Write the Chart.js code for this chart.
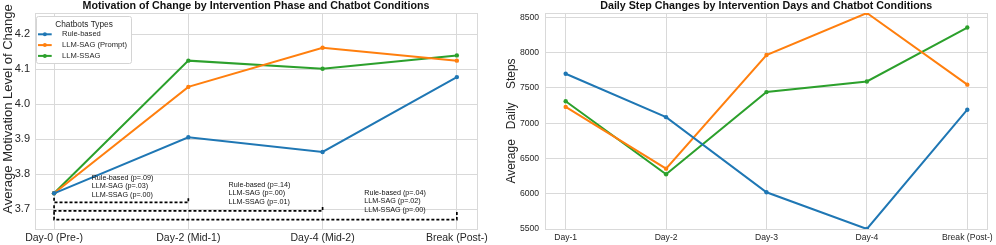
<!DOCTYPE html>
<html>
<head>
<meta charset="utf-8">
<script src="https://cdn.jsdelivr.net/npm/chart.js@4.4.1/dist/chart.umd.min.js"></script>
<style>
  body { margin: 0; background: #fff; width: 996px; height: 245px; overflow: hidden; position: relative; }
  #wrapMot { position: absolute; left: 0; top: 0; width: 500px; height: 245px; }
  #wrapSteps { position: absolute; left: 500px; top: 0; width: 496px; height: 245px; }
</style>
</head>
<body>
<div id="wrapMot"><canvas id="motChart" width="500" height="245"></canvas></div>
<div id="wrapSteps"><canvas id="stepChart" width="496" height="245"></canvas></div>
<script>
// series shared by both charts
const seriesNames = ['Rule-based', 'LLM-SAG (Prompt)', 'LLM-SSAG'];
const seriesColors = ['#1f77b4', '#ff7f0e', '#2ca02c'];

// left: motivation of change
const phaseLabels = ['Day-0 (Pre-)', 'Day-2 (Mid-1)', 'Day-4 (Mid-2)', 'Break (Post-)'];
const motRule = [3.745, 3.905, 3.863, 4.077];
const motSag = [3.745, 4.049, 4.161, 4.124];
const motSsag = [3.745, 4.124, 4.101, 4.139];
const motTicks = [3.7, 3.8, 3.9, 4.0, 4.1, 4.2];

// p-value brackets (Day-0 vs later phase)
const bracketEnd = [1, 2, 3];
const bracketY = [3.719, 3.695, 3.670];
const bracketRise = [0.013, 0.016, 0.022];
const pNotes = [
  ['Rule-based (p=.09)', 'LLM-SAG (p=.03)', 'LLM-SSAG (p=.00)'],
  ['Rule-based (p=.14)', 'LLM-SAG (p=.00)', 'LLM-SSAG (p=.01)'],
  ['Rule-based (p=.04)', 'LLM-SAG (p=.02)', 'LLM-SSAG (p=.00)']
];
const pNoteX = [0.28, 1.30, 2.31];
const pNoteY = [3.789, 3.769, 3.747];

// right: daily steps
const dayLabels = ['Day-1', 'Day-2', 'Day-3', 'Day-4', 'Break (Post-)'];
const stepRule = [7700, 7085, 6020, 5500, 7190];
const stepSag = [7230, 6355, 7965, 8560, 7545];
const stepSsag = [7310, 6275, 7440, 7590, 8355];
const stepTicks = [5500, 6000, 6500, 7000, 7500, 8000, 8500];

const FONT = '"Liberation Sans", Arial, sans-serif';
const GRID = '#d9d9d9';
const TXT = '#262626';

function toXY(arr) {
  return arr.map((v, i) => ({ x: i, y: v }));
}

function lineSet(name, vals, color) {
  return {
    label: name,
    data: toXY(vals),
    borderColor: color,
    backgroundColor: color,
    borderWidth: 2,
    pointRadius: 2.2,
    pointBorderWidth: 0,
    tension: 0
  };
}

// light grey box around the plot area
const frame = {
  id: 'frame',
  beforeDatasetsDraw(chart) {
    const { ctx, chartArea: a } = chart;
    ctx.save();
    ctx.strokeStyle = GRID;
    ctx.lineWidth = 1;
    ctx.strokeRect(Math.round(a.left) + 0.5, Math.round(a.top) + 0.5, Math.round(a.width), Math.round(a.height));
    ctx.restore();
  }
};

// p-value notes beside the brackets
const pNoteText = {
  id: 'pNoteText',
  afterDatasetsDraw(chart) {
    const { ctx, scales } = chart;
    ctx.save();
    ctx.font = '7.2px ' + FONT;
    ctx.fillStyle = '#111';
    ctx.textAlign = 'left';
    ctx.textBaseline = 'middle';
    pNotes.forEach((lines, k) => {
      const px = scales.x.getPixelForValue(pNoteX[k]);
      const py = scales.y.getPixelForValue(pNoteY[k]);
      lines.forEach((t, j) => ctx.fillText(t, px, py + j * 8.6));
    });
    ctx.restore();
  }
};

// boxed legend in the upper left of the motivation plot
const legendBox = {
  id: 'legendBox',
  afterDraw(chart) {
    const { ctx } = chart;
    const x = 36.5, y = 16.5, w = 95, h = 47;
    ctx.save();
    ctx.fillStyle = '#fff';
    ctx.strokeStyle = '#d4d4d4';
    ctx.lineWidth = 1;
    ctx.beginPath();
    ctx.roundRect(x, y, w, h, 2);
    ctx.fill();
    ctx.stroke();
    ctx.fillStyle = TXT;
    ctx.textBaseline = 'middle';
    ctx.textAlign = 'center';
    ctx.font = '8.3px ' + FONT;
    ctx.fillText('Chatbots Types', x + 47.5, y + 7.8);
    ctx.textAlign = 'left';
    ctx.font = '7.6px ' + FONT;
    chart.data.datasets.slice(0, 3).forEach((ds, i) => {
      const ry = y + 17.8 + i * 10.8;
      ctx.strokeStyle = ds.borderColor;
      ctx.lineWidth = 2;
      ctx.beginPath();
      ctx.moveTo(x + 1.5, ry);
      ctx.lineTo(x + 15.2, ry);
      ctx.stroke();
      ctx.fillStyle = ds.borderColor;
      ctx.beginPath();
      ctx.arc(x + 8.4, ry, 2, 0, Math.PI * 2);
      ctx.fill();
      ctx.fillStyle = TXT;
      ctx.fillText(ds.label, x + 25.5, ry);
    });
    ctx.restore();
  }
};

// y title of the motivation plot, sits a bit above centre
const motYTitle = {
  id: 'motYTitle',
  afterDraw(chart) {
    const { ctx } = chart;
    ctx.save();
    ctx.translate(8, 109);
    ctx.rotate(-Math.PI / 2);
    ctx.font = '13px ' + FONT;
    ctx.fillStyle = TXT;
    ctx.textAlign = 'center';
    ctx.textBaseline = 'middle';
    ctx.fillText('Average Motivation Level of Change', 0, 0);
    ctx.restore();
  }
};

// Motivation of change
const motSets = [
  lineSet(seriesNames[0], motRule, seriesColors[0]),
  lineSet(seriesNames[1], motSag, seriesColors[1]),
  lineSet(seriesNames[2], motSsag, seriesColors[2])
];
bracketEnd.forEach((end, k) => {
  const y = bracketY[k], r = bracketRise[k];
  motSets.push({
    label: 'bracket' + k,
    data: [{ x: 0, y: y + r }, { x: 0, y: y }, { x: end, y: y }, { x: end, y: y + r }],
    borderColor: '#000',
    borderWidth: 1.7,
    borderDash: [3, 2],
    pointRadius: 0,
    tension: 0
  });
});

const ctx1 = document.getElementById('motChart').getContext('2d');
const motChart = new Chart(ctx1, {
  type: 'line',
  data: { datasets: motSets },
  options: {
    responsive: false,
    animation: false,
    events: [],
    layout: { padding: { left: 0, right: 23, top: 0, bottom: 0 } },
    scales: {
      x: {
        type: 'linear',
        min: -0.142,
        max: 3.15,
        afterBuildTicks: s => { s.ticks = phaseLabels.map((_, i) => ({ value: i })); },
        afterFit: s => { s.height = 16; },
        grid: { color: GRID, drawTicks: false },
        border: { display: false },
        ticks: {
          padding: 3,
          maxRotation: 0,
          autoSkip: false,
          color: TXT,
          font: { family: FONT, size: 10.5 },
          callback: v => phaseLabels[v] ?? ''
        }
      },
      y: {
        min: 3.643,
        max: 4.26,
        afterBuildTicks: s => { s.ticks = motTicks.map(v => ({ value: v })); },
        afterFit: s => { s.width = 35; },
        grid: { color: GRID, drawTicks: false },
        border: { display: false },
        ticks: {
          padding: 5,
          color: TXT,
          font: { family: FONT, size: 11 },
          callback: v => v.toFixed(1)
        }
      }
    },
    plugins: {
      legend: { display: false },
      tooltip: { enabled: false },
      title: {
        display: true,
        fullSize: false,
        text: 'Motivation of Change by Intervention Phase and Chatbot Conditions',
        color: '#111',
        font: { family: FONT, size: 10.7, weight: 'bold' },
        padding: { top: 0, bottom: 0.2 }
      }
    }
  },
  plugins: [frame, pNoteText, legendBox, motYTitle]
});

// Daily steps
const ctx2 = document.getElementById('stepChart').getContext('2d');
const stepChart = new Chart(ctx2, {
  type: 'line',
  data: {
    datasets: [
      lineSet(seriesNames[0], stepRule, seriesColors[0]),
      lineSet(seriesNames[1], stepSag, seriesColors[1]),
      lineSet(seriesNames[2], stepSsag, seriesColors[2])
    ]
  },
  options: {
    responsive: false,
    animation: false,
    events: [],
    layout: { padding: { left: 0, right: 8, top: 0, bottom: 0 } },
    scales: {
      x: {
        type: 'linear',
        min: -0.206,
        max: 4.2,
        afterBuildTicks: s => { s.ticks = dayLabels.map((_, i) => ({ value: i })); },
        afterFit: s => { s.height = 16; },
        grid: { color: GRID, drawTicks: false },
        border: { display: false },
        ticks: {
          padding: 3,
          maxRotation: 0,
          autoSkip: false,
          color: TXT,
          font: { family: FONT, size: 8.6 },
          callback: v => dayLabels[v] ?? ''
        }
      },
      y: {
        min: 5500,
        max: 8560,
        afterBuildTicks: s => { s.ticks = stepTicks.map(v => ({ value: v })); },
        afterFit: s => { s.width = 45; },
        grid: { color: GRID, drawTicks: false },
        border: { display: false },
        title: {
          display: true,
          text: 'Average   Daily    Steps',
          color: TXT,
          font: { family: FONT, size: 12 },
          padding: { top: 4, bottom: 0 }
        },
        ticks: {
          padding: 6,
          color: TXT,
          font: { family: FONT, size: 8.6 },
          callback: v => String(v)
        }
      }
    },
    plugins: {
      legend: { display: false },
      tooltip: { enabled: false },
      title: {
        display: true,
        fullSize: false,
        text: 'Daily Step Changes by Intervention Days and Chatbot Conditions',
        color: '#111',
        font: { family: FONT, size: 10.7, weight: 'bold' },
        padding: { top: 0, bottom: 0.2 }
      }
    }
  },
  plugins: [frame]
});
</script>
</body>
</html>
